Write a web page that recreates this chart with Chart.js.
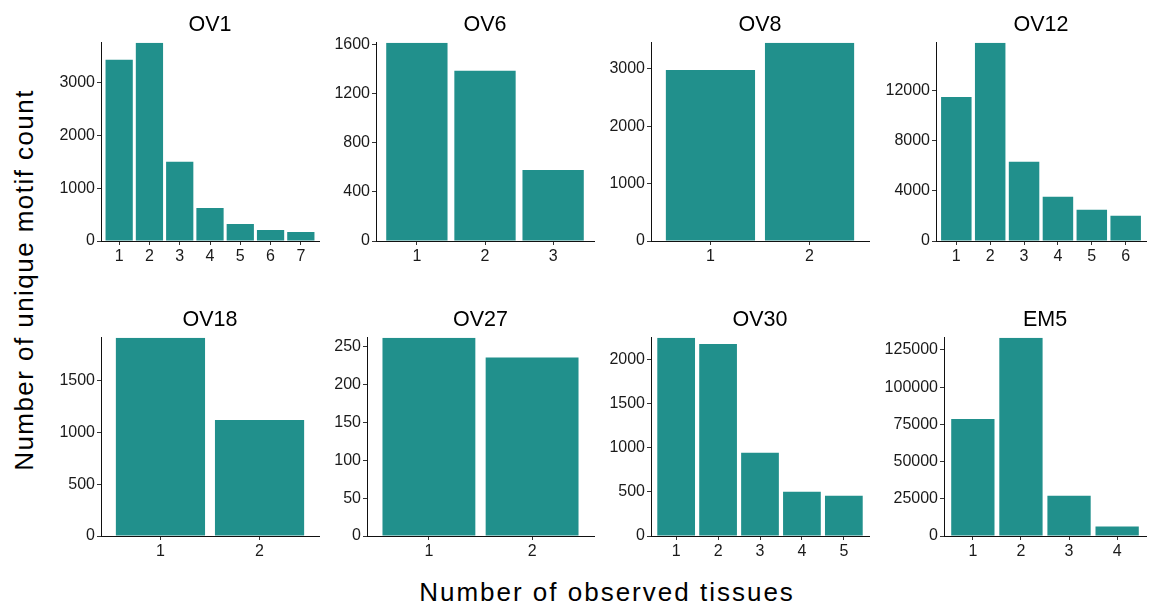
<!DOCTYPE html>
<html><head><meta charset="utf-8">
<script src="https://cdn.jsdelivr.net/npm/chart.js@4"></script>
<style>
body{margin:0;background:#fff;width:1152px;height:604px;position:relative;overflow:hidden;font-family:"Liberation Sans",Arial,sans-serif}
canvas{position:absolute}
#ytitle{position:absolute;left:24px;top:280px;transform:translate(-50%,-50%) rotate(-90deg);font-size:26px;letter-spacing:1.45px;white-space:nowrap;color:#000}
#xtitle{position:absolute;left:607px;top:592px;transform:translate(-50%,-50%);font-size:26px;letter-spacing:2px;white-space:nowrap;color:#000}
</style>
</head><body>
<div id="ytitle">Number of unique motif count</div>
<div id="xtitle">Number of observed tissues</div>
<script>
// ---- data ----
const ov1Tissues = [1,2,3,4,5,6,7];
const ov1Counts  = [3435,3757,1500,626,323,209,171];
const ov1YTicks  = [0,1000,2000,3000];

const ov6Tissues = [1,2,3];
const ov6Counts  = [1612,1384,578];
const ov6YTicks  = [0,400,800,1200,1600];

const ov8Tissues = [1,2];
const ov8Counts  = [2979,3454];
const ov8YTicks  = [0,1000,2000,3000];

const ov12Tissues = [1,2,3,4,5,6];
const ov12Counts  = [11500,15825,6320,3530,2494,2016];
const ov12YTicks  = [0,4000,8000,12000];

const ov18Tissues = [1,2];
const ov18Counts  = [1917,1123];
const ov18YTicks  = [0,500,1000,1500];

const ov27Tissues = [1,2];
const ov27Counts  = [262,236];
const ov27YTicks  = [0,50,100,150,200,250];

const ov30Tissues = [1,2,3,4,5];
const ov30Counts  = [2241,2170,940,500,455];
const ov30YTicks  = [0,500,1000,1500,2000];

const em5Tissues = [1,2,3,4];
const em5Counts  = [78620,133110,27010,6430];
const em5YTicks  = [0,25000,50000,75000,100000,125000];

// ---- layout (positions only) ----
const FONT = '"Liberation Sans", Arial, sans-serif';
const BAR = '#21908C';
const YW = 62, PADR = 6, H = 270;

function panel(title, tissues, counts, yTicks, axisX, top, plotW){
  const c = document.createElement('canvas');
  const w = YW + plotW + PADR;
  c.width = w; c.height = H;
  c.style.left = (axisX - YW) + 'px';
  c.style.top = top + 'px';
  c.style.width = w + 'px'; c.style.height = H + 'px';
  document.body.appendChild(c);
  const n = tissues.length;
  const gridOpt = {display:true, offset:false, drawOnChartArea:false, drawTicks:true, tickLength:4, color:'#333', lineWidth:1};
  const borderOpt = {display:true, color:'#111', width:1};
  new Chart(c, {
    type:'bar',
    data:{datasets:[{
      data: tissues.map((t,i)=>({x:t, y:counts[i]})),
      backgroundColor: BAR, borderWidth:0,
      barPercentage:0.9, categoryPercentage:1
    }]},
    options:{
      responsive:false, animation:false, devicePixelRatio:1,
      layout:{padding:{left:0,right:PADR,top:0,bottom:0}},
      plugins:{
        legend:{display:false}, tooltip:{enabled:false},
        title:{display:true, text:title, color:'#000', fullSize:false,
               font:{family:FONT, size:21.5, weight:'normal', lineHeight:1.2}, padding:{top:12,bottom:5}}
      },
      scales:{
        x:{type:'linear', position:'bottom', min:0.4, max:n+0.6, offset:false,
           afterBuildTicks:s=>{s.ticks = tissues.map(v=>({value:v}));},
           afterFit:s=>{s.height = 29;},
           ticks:{font:{family:FONT,size:16}, color:'#1a1a1a', padding:2, maxRotation:0, autoSkip:false, callback:v=>String(v)},
           grid:gridOpt, border:borderOpt},
        y:{type:'linear', position:'left', min:0, max:Math.max(...counts),
           afterBuildTicks:s=>{s.ticks = yTicks.map(v=>({value:v}));},
           afterFit:s=>{s.width = YW;},
           ticks:{font:{family:FONT,size:16}, color:'#1a1a1a', padding:2, callback:v=>String(v)},
           grid:gridOpt, border:borderOpt}
      }
    }
  });
}

panel('OV1',  ov1Tissues,  ov1Counts,  ov1YTicks,  101, 0, 218);
panel('OV6',  ov6Tissues,  ov6Counts,  ov6YTicks,  376, 0, 218);
panel('OV8',  ov8Tissues,  ov8Counts,  ov8YTicks,  651, 0, 218);
panel('OV12', ov12Tissues, ov12Counts, ov12YTicks, 936, 0, 210);
panel('OV18', ov18Tissues, ov18Counts, ov18YTicks, 101, 295, 218);
panel('OV27', ov27Tissues, ov27Counts, ov27YTicks, 367, 295, 227);
panel('OV30', ov30Tissues, ov30Counts, ov30YTicks, 651, 295, 218);
panel('EM5',  em5Tissues,  em5Counts,  em5YTicks,  944, 295, 202);
</script>
</body></html>
